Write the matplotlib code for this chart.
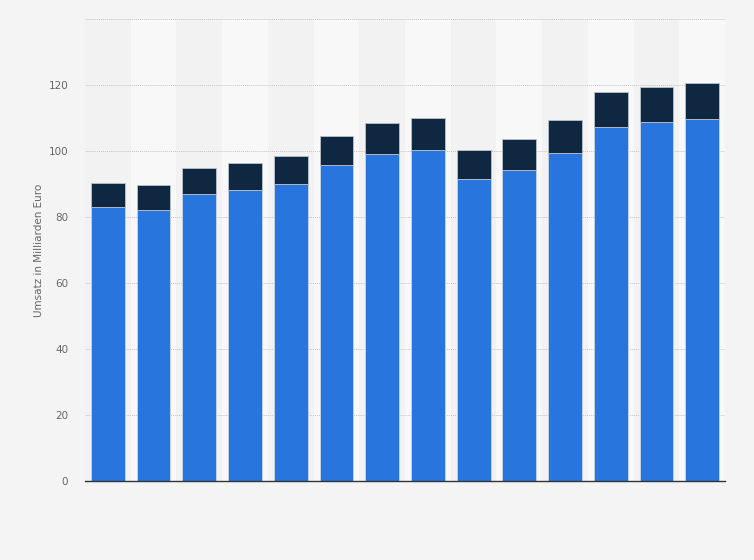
import matplotlib

matplotlib.use("Agg")
import matplotlib.pyplot as plt
import numpy as np

# Umsatz in Milliarden Euro, two stacked segments per bar (no year labels shown)
LOWER = [83.0, 82.1, 87.0, 88.2, 90.0, 95.8, 99.1, 100.4, 91.5, 94.3, 99.4, 107.4, 108.7, 109.8]
TOTAL = [90.3, 89.6, 94.8, 96.3, 98.4, 104.5, 108.5, 110.0, 100.3, 103.6, 109.4, 117.9, 119.4, 120.6]
UPPER = [t - b for t, b in zip(TOTAL, LOWER)]
Y_TICKS = [0, 20, 40, 60, 80, 100, 120, 140]
Y_LABEL = "Umsatz in Milliarden Euro"

BLUE = "#2876dd"
NAVY = "#0f2740"
BG = "#f4f4f4"

fig = plt.figure(figsize=(7.54, 5.6), dpi=100)
fig.patch.set_facecolor(BG)
ax = fig.add_axes([0.1127, 0.1411, 0.849, 0.825])
ax.set_facecolor(BG)

x = np.arange(len(LOWER))

# alternating column bands
for i in x:
    ax.axvspan(i - 0.5, i + 0.5, color="#f2f2f2" if i % 2 == 0 else "#f8f8f8", lw=0, zorder=0)

ax.bar(x, LOWER, width=0.74, color=BLUE, edgecolor="#c9d6e6", linewidth=0.6, zorder=3)
ax.bar(x, UPPER, bottom=LOWER, width=0.74, color=NAVY, edgecolor="#b9c2cc", linewidth=0.6, zorder=3)

ax.set_xlim(-0.5, len(LOWER) - 0.5)
ax.set_ylim(0, 140)
ax.set_yticks(Y_TICKS)
ax.set_yticklabels([str(v) if v < 140 else "" for v in Y_TICKS])
ax.set_xticks([])
ax.grid(axis="y", color="#c4c4c4", linestyle=(0, (1, 1)), linewidth=0.7, zorder=1)
ax.tick_params(axis="y", length=0, pad=12, labelsize=7.5, labelcolor="#666666")

for side in ("top", "right", "left"):
    ax.spines[side].set_visible(False)
ax.spines["bottom"].set_color("#333333")
ax.spines["bottom"].set_linewidth(1.0)
ax.spines["bottom"].set_zorder(4)

ax.set_ylabel(Y_LABEL, fontsize=7.5, color="#666666", labelpad=3)

fig.savefig("out.png", dpi=100, facecolor=BG)
